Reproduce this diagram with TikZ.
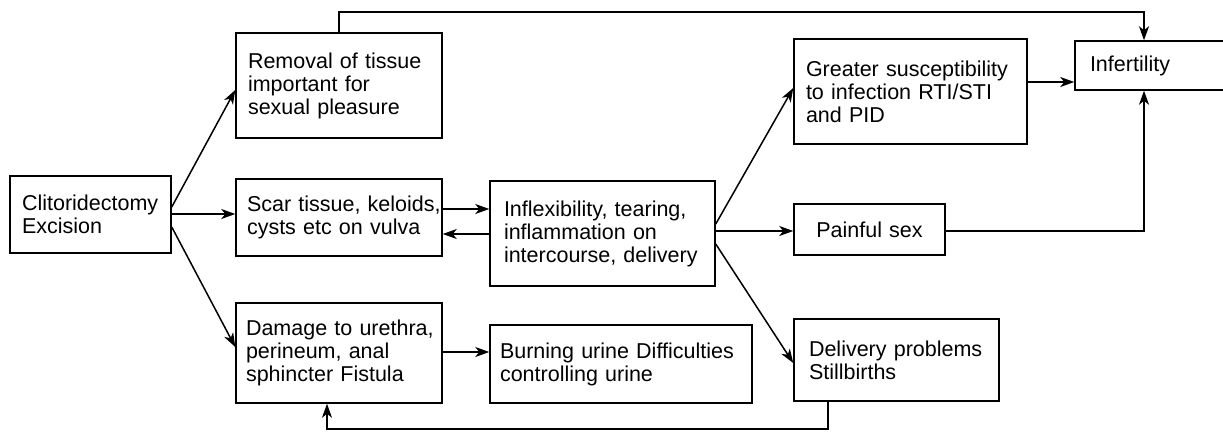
\documentclass[tikz,border=0pt]{standalone}
\usepackage{fontspec}
\setmainfont{Liberation Sans}
\usetikzlibrary{arrows.meta}
\newcommand{\lineof}[1]{\mbox{#1}}
\begin{document}
\begin{tikzpicture}[x=1pt,y=-1pt,
  box/.style={draw, line width=1.5pt, rectangle, inner ysep=0pt, align=left,
    font=\fontsize{21.5}{23}\selectfont},
  arr/.style={line width=1.5pt, -{Stealth[length=14pt,width=10pt,inset=4pt]}},
  ln/.style={line width=1.5pt}]
\useasboundingbox (0,0) rectangle (1223,431);

\node[box, minimum width=161pt, minimum height=77pt, inner xsep=12pt, text width=137pt] (clit) at (90.5,214.5) {\lineof{Clitoridectomy}\\\lineof{Excision}};
\node[box, minimum width=206pt, minimum height=105pt, inner xsep=12pt, text width=182pt] (removal) at (339,85.5) {\lineof{Removal of tissue}\\\lineof{important for}\\\lineof{sexual pleasure}};
\node[box, minimum width=206pt, minimum height=77pt, inner xsep=11pt, text width=184pt] (scar) at (339,217.5) {\lineof{Scar tissue, keloids,}\\\lineof{cysts etc on vulva}};
\node[box, minimum width=206pt, minimum height=100pt, inner xsep=10pt, text width=186pt] (damage) at (339,353) {\lineof{Damage to urethra,}\\\lineof{perineum, anal}\\\lineof{sphincter Fistula}\\[4pt]};
\node[box, minimum width=225pt, minimum height=105pt, inner xsep=14pt, text width=197pt] (inflex) at (602.5,233.5) {\lineof{Inflexibility, tearing,}\\\lineof{inflammation on}\\\lineof{intercourse, delivery}};
\node[box, minimum width=262pt, minimum height=78pt, inner xsep=10pt, text width=242pt] (burning) at (621,364) {\lineof{Burning urine Difficulties}\\\lineof{controlling urine}};
\node[box, minimum width=233pt, minimum height=105pt, inner xsep=12pt, text width=209pt] (greater) at (910.5,91.5) {\lineof{Greater susceptibility}\\\lineof{to infection RTI/STI}\\\lineof{and PID}};
\node[box, minimum width=151pt, minimum height=49pt, inner xsep=15pt, text width=121pt] (infert) at (1150.5,65.5) {\lineof{Infertility}};
\node[box, minimum width=151pt, minimum height=51pt, inner xsep=12pt, text width=127pt, align=center] (painful) at (869.5,229.5) {Painful sex};
\node[box, minimum width=205pt, minimum height=82pt, inner xsep=15pt, text width=175pt] (delivery) at (896.5,360) {\lineof{Delivery problems}\\\lineof{Stillbirths}};

\coordinate (topy) at (0,12);
\coordinate (boty) at (0,429);
\coordinate (infin) at ([xshift=-6.5pt]infert.north);
\coordinate (infbot) at ([xshift=-6.5pt]infert.south);
\coordinate (delout) at ([xshift=-68.5pt]delivery.south);
\coordinate (dmgin) at ([xshift=-12pt]damage.south);

\draw[arr] ([yshift=7.5pt]clit.east) -- ([yshift=-4.5pt]removal.west);
\draw[arr] ([yshift=0.5pt]clit.east) -- ([yshift=0.5pt]clit.east -| scar.west);
\draw[arr] ([yshift=-12.5pt]clit.east) -- ([yshift=6pt]damage.west);
\draw[arr] ([yshift=8.5pt]scar.east) -- ([yshift=8.5pt]scar.east -| inflex.west);
\draw[arr] ([yshift=-0.5pt]inflex.west) -- ([yshift=-0.5pt]inflex.west -| scar.east);
\draw[arr] ([yshift=9.5pt]inflex.east) -- ([yshift=3.5pt]greater.west);
\draw[arr] ([yshift=2.5pt]inflex.east) -- ([yshift=2.5pt]inflex.east -| painful.west);
\draw[arr] ([yshift=-10.5pt]inflex.east) -- ([yshift=-3pt]delivery.west);
\draw[arr] ([yshift=1pt]damage.east) -- ([yshift=1pt]damage.east -| burning.west);
\draw[arr] ([yshift=9.5pt]greater.east) -- ([yshift=9.5pt]greater.east -| infert.west);
\draw[arr] (removal.north) -- (removal.north |- topy) -- (topy -| infin) -- (infin);
\draw[arr] ([yshift=-1.5pt]painful.east) -| (infbot);
\draw[arr] (delout) -- (delout |- boty) -- (boty -| dmgin) -- (dmgin);
\end{tikzpicture}
\end{document}
